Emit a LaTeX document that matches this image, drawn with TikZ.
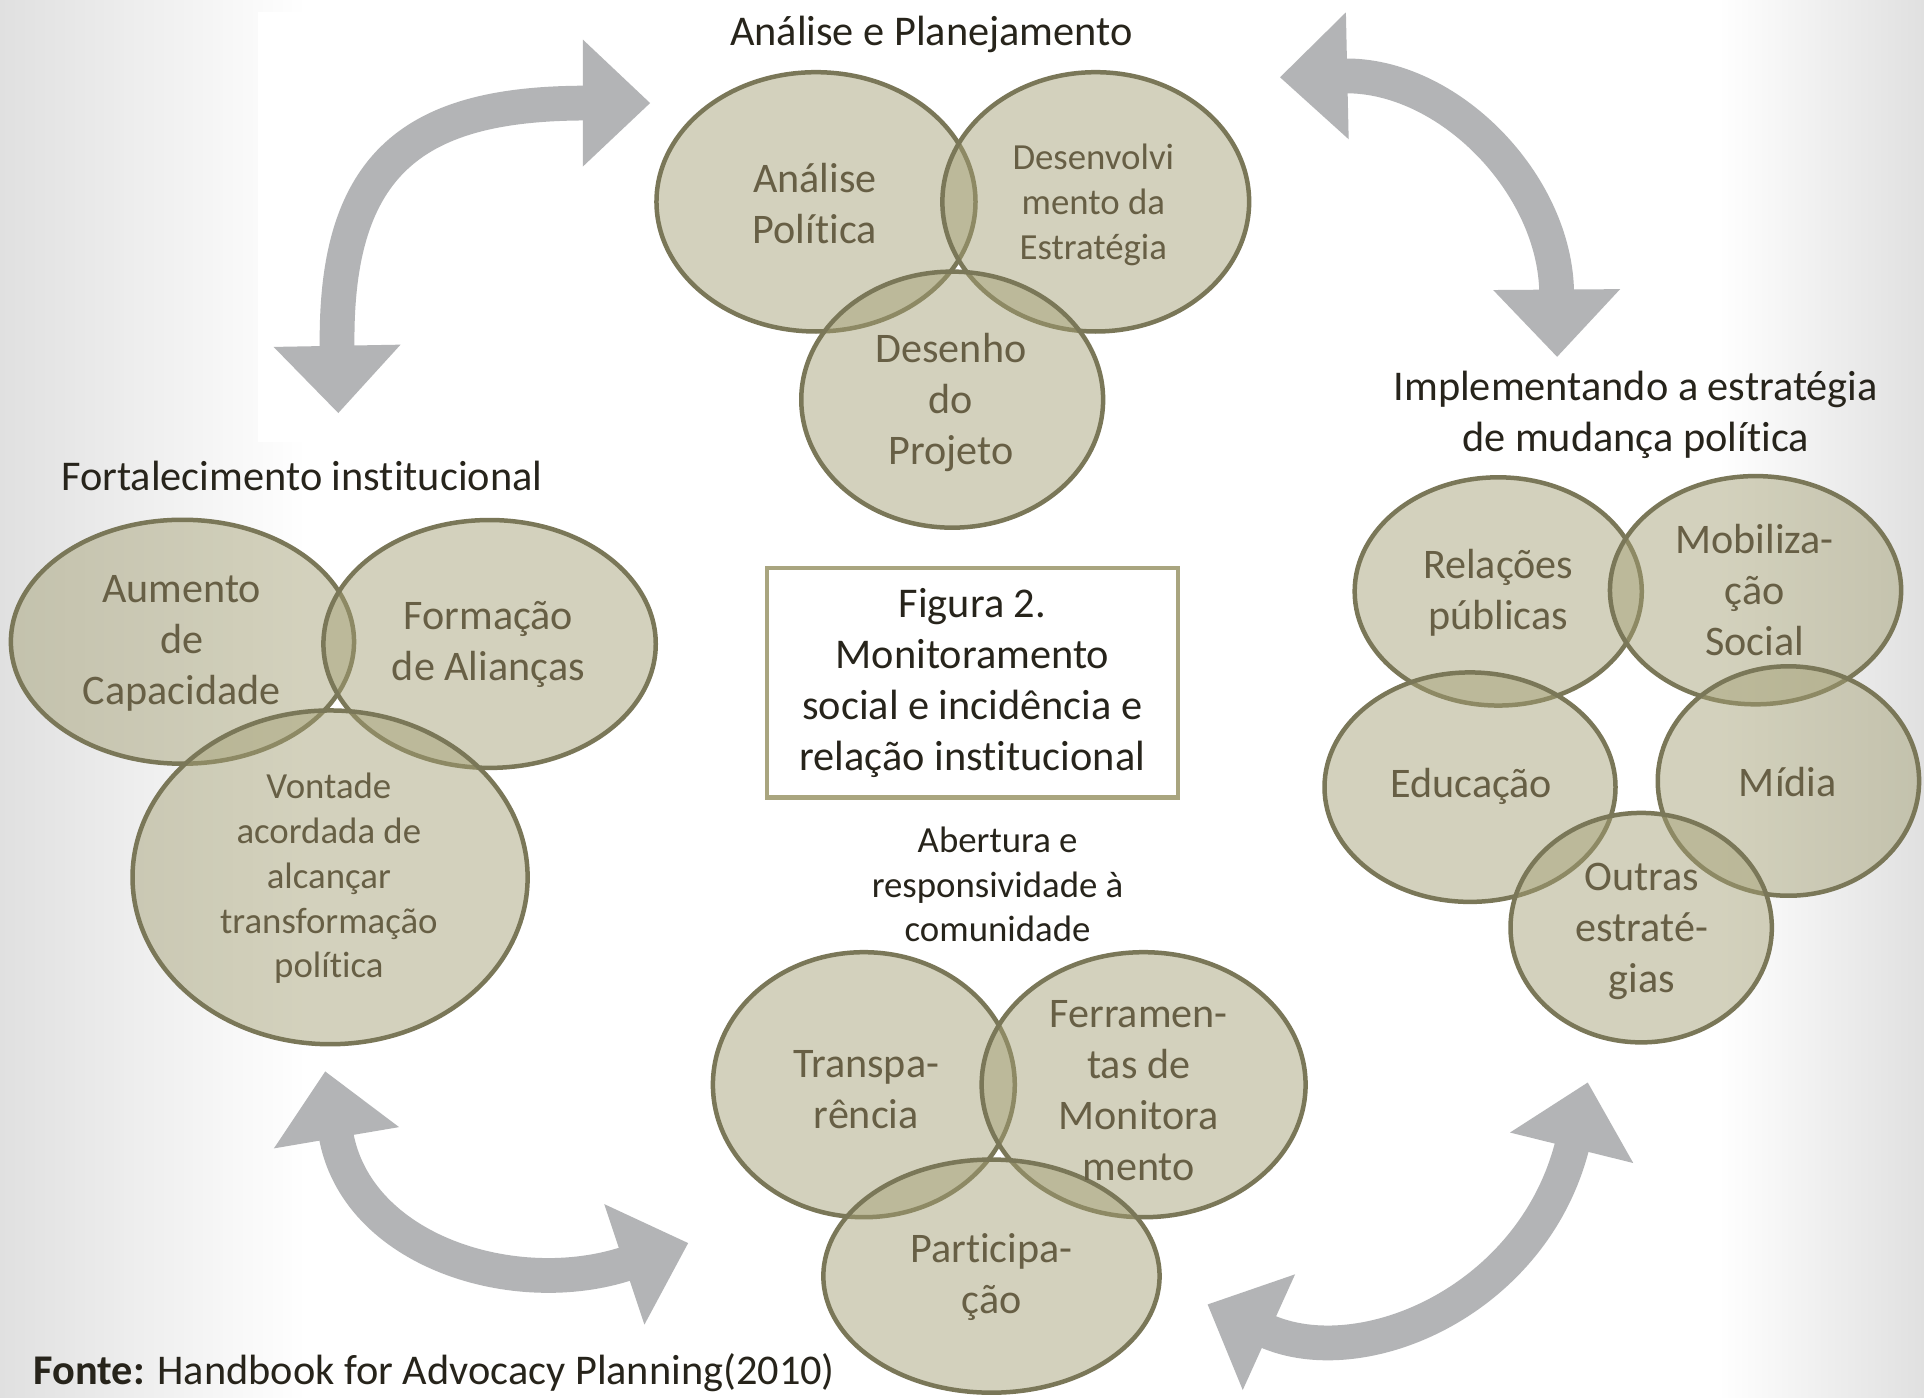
\documentclass[tikz,border=0pt]{standalone}
\usepackage{fontspec}
\setmainfont{Carlito}[Ligatures={NoCommon}]
\usetikzlibrary{shapes.geometric,arrows.meta}
\definecolor{vline}{HTML}{7A7758}
\definecolor{vfill}{HTML}{A39F73}
\definecolor{vtxt}{HTML}{675F45}
\definecolor{htxt}{HTML}{27241B}
\definecolor{boxc}{HTML}{A9A57F}
\definecolor{agray}{HTML}{B3B4B6}
\definecolor{bgl}{HTML}{E0E0E0}
\begin{document}
\begin{tikzpicture}[x=0.6pt,y=-0.6pt,
 venn/.style={ellipse,draw=vline,line width=2.2pt,fill=vfill,fill opacity=0.47,draw opacity=1,inner sep=0pt,outer sep=0pt},
 vt/.style={text=vtxt,align=center,inner sep=0pt,font=\fontsize{20.6pt}{24.9pt}\selectfont},
 vts/.style={text=vtxt,align=center,inner sep=0pt,font=\fontsize{18pt}{21.9pt}\selectfont},
 head/.style={text=htxt,align=center,inner sep=0pt,font=\fontsize{20.7pt}{24.9pt}\selectfont},
 garrow/.style={draw=agray,line width=17pt,{Triangle[width=60pt,length=33pt]}-{Triangle[width=60pt,length=33pt]}}]
\useasboundingbox (0,0) rectangle (1568,1139);
% background
\fill[white] (0,0) rectangle (1568,1139);
\shade[left color=bgl,right color=white] (0,0) rectangle (250,1139);
\shade[left color=white,right color=bgl] (1400,0) rectangle (1568,1139);
\fill[white] (210,10) rectangle (560,360);
% arrows
\coordinate (a1s) at (275.7,336.8); \coordinate (a1e) at (530,84);
\coordinate (a2s) at (1043,63);     \coordinate (a2e) at (1269,291);
\coordinate (a3s) at (984,1063);    \coordinate (a3e) at (1294,882);
\coordinate (a4s) at (265,873);     \coordinate (a4e) at (561,1013);
\draw[garrow] (a1s) .. controls (272,130) and (340,84) .. (a1e);
\draw[garrow] (a2s) .. controls (1180,60) and (1268,150) .. (a2e);
\draw[garrow] (a3s) .. controls (1110,1120) and (1250,1060) .. (a3e);
\draw[garrow] (a4s) .. controls (290,1020) and (420,1060) .. (a4e);
% ellipses: top group
\node[venn,minimum width=156pt,minimum height=126.8pt] (A1) at (665,164.5) {};
\node[venn,minimum width=150pt,minimum height=126.8pt] (A2) at (893,164.5) {};
\node[venn,minimum width=147.6pt,minimum height=125.2pt] (A3) at (776,325.7) {};
% left group
\node[venn,minimum width=167.8pt,minimum height=119.3pt] (L1) at (148.7,523) {};
\node[venn,minimum width=162.5pt,minimum height=121.2pt] (L2) at (399,524.8) {};
\node[venn,minimum width=193.2pt,minimum height=163.2pt] (L3) at (269,715) {};
% right group
\node[venn,minimum width=140.4pt,minimum height=111.6pt] (R1) at (1221,482) {};
\node[venn,minimum width=142.4pt,minimum height=111.6pt] (R2) at (1430.7,481) {};
\node[venn,minimum width=142.3pt,minimum height=112.2pt] (R3) at (1198,641.5) {};
\node[venn,minimum width=127.8pt,minimum height=112.2pt] (R4) at (1457.5,636.5) {};
\node[venn,minimum width=127.8pt,minimum height=112.2pt] (R5) at (1337.5,756) {};
% bottom group
\node[venn,minimum width=147.6pt,minimum height=129.6pt] (B1) at (704,884) {};
\node[venn,minimum width=158.4pt,minimum height=129.6pt] (B2) at (932,884) {};
\node[venn,minimum width=164.4pt,minimum height=114pt] (B3) at (808,1040) {};
% ellipse texts
\node[vt] (tA1) at (664,166) {Análise\\Política};
\node[vts] (tA2) at (891,167) {Desenvolvi\\mento da\\Estratégia};
\node[vt] (tA3) at (775,328) {Desenho\\do\\Projeto};
\node[vt] (tL1) at (148,524) {Aumento\\de\\Capacidade};
\node[vt] (tL2) at (398,525) {Formação\\de Alianças};
\node[vts] (tL3) at (268,716) {Vontade\\acordada de\\alcançar\\transformação\\política};
\node[vt] (tR1) at (1221,483) {Relações\\públicas};
\node[vt] (tR2) at (1430,481) {Mobiliza-\\ção\\Social};
\node[vt] (tR3) at (1199,641) {Educação};
\node[vt] (tR4) at (1457,637) {Mídia};
\node[vt] (tR5) at (1338,759) {Outras\\estraté-\\gias};
\node[vt] (tB1) at (706,888) {Transpa-\\rência};
\node[vt] (tB2) at (928,889) {Ferramen-\\tas de\\Monitora\\mento};
\node[vt] (tB3) at (808,1041) {Participa-\\ção};
% headings
\node[head] (t1) at (759,28) {Análise e Planejamento};
\node[head] (t2) at (246,388) {Fortalecimento institucional};
\node[head] (t3) at (1333,338) {Implementando a estratégia\\de mudança política};
\node[head,font=\fontsize{18pt}{21.8pt}\selectfont] (t4) at (813,721) {Abertura e\\responsividade à\\comunidade};
% central box
\node[draw=boxc,line width=2.2pt,fill=white,minimum width=201pt,minimum height=112.2pt,text=htxt,align=center,font=\fontsize{20.7pt}{24.9pt}\selectfont] (box) at (792.5,556.5) {Figura 2.\\Monitoramento\\social e incidência e\\relação institucional};
% source
\node[anchor=base west,inner sep=0pt,text=htxt,font=\fontsize{20.7pt}{24.9pt}\selectfont] (src) at (27,1128) {\textbf{Fonte:} Handbook for Advocacy Planning(2010)};
\end{tikzpicture}
\end{document}
